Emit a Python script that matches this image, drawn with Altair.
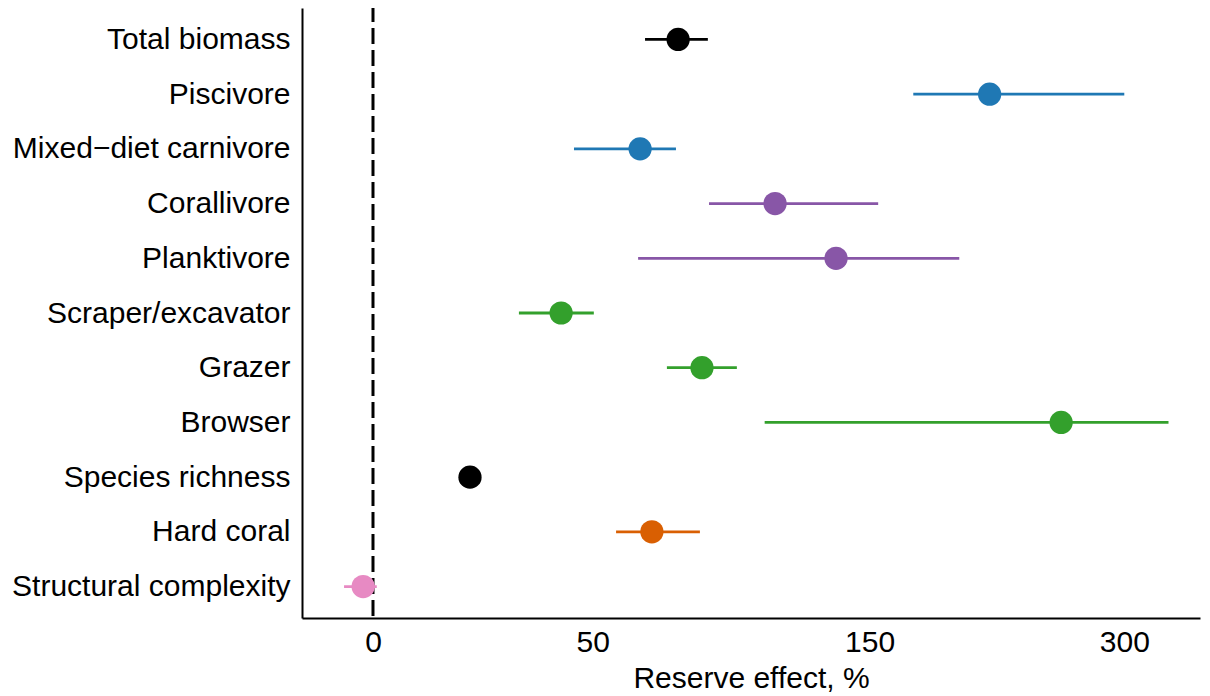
import math
import altair as alt
import pandas as pd

categories = ["Total biomass", "Piscivore", "Mixed\u2212diet carnivore", "Corallivore",
              "Planktivore", "Scraper/excavator", "Grazer", "Browser",
              "Species richness", "Hard coral", "Structural complexity"]
effect_pct = [75.6, 212, 63.7, 110, 135, 41.5, 83.5, 256, 19.6, 67.3, -1.8]
lower_pct = [65.2, 171, 44.9, 85.9, 63.1, 30.9, 72.0, 106, 19.0, 56.6, -5.2]
upper_pct = [85.5, 300, 74.9, 154, 195, 50.3, 95.7, 334, 20.2, 82.8, 0.7]
groups = ["Total", "Carnivores", "Carnivores", "Invertivores", "Invertivores",
          "Herbivores", "Herbivores", "Herbivores", "Diversity", "Coral", "Habitat"]

group_names = ["Total", "Carnivores", "Invertivores", "Herbivores", "Diversity", "Coral", "Habitat"]
group_colors = ["#000000", "#1f78b4", "#8856a7", "#33a02c", "#000000", "#d95f02", "#e78ac3"]

tick_pct = [0, 50, 150, 300]
tick_vals = [math.log(1 + t / 100) for t in tick_pct]

df = pd.DataFrame({"category": categories, "effect": effect_pct,
                   "lo": lower_pct, "hi": upper_pct, "group": groups})

FONT = "Liberation Sans"
base = alt.Chart(df).transform_calculate(
    lr="log(1 + datum.effect / 100)",
    lrlo="log(1 + datum.lo / 100)",
    lrhi="log(1 + datum.hi / 100)",
)

xscale = alt.Scale(domain=[-0.131, 1.526], nice=False, zero=False)
yscale = alt.Scale(type="point", domain=categories, padding=0.575)
color = alt.Color("group:N", scale=alt.Scale(domain=group_names, range=group_colors), legend=None)

rules = base.mark_rule(strokeWidth=2.8).encode(
    y=alt.Y("category:N", scale=yscale, sort=categories,
            axis=alt.Axis(title=None, labelFont=FONT, labelFontSize=30, labelColor="black",
                          labelLimit=0, ticks=False, labelPadding=12,
                          domainColor="black", domainWidth=2)),
    x=alt.X("lrlo:Q", scale=xscale,
            axis=alt.Axis(title="Reserve effect, %", values=tick_vals,
                          labelExpr="format((exp(datum.value) - 1) * 100, '.0f')",
                          labelFont=FONT, labelFontSize=30, labelColor="black",
                          titleFont=FONT, titleFontSize=30, titleFontWeight="normal",
                          titleColor="black", titlePadding=6,
                          ticks=False, grid=False, labelPadding=9,
                          domainColor="black", domainWidth=2)),
    x2="lrhi:Q",
    color=color,
)

points = base.mark_circle(size=540, opacity=1).encode(
    y=alt.Y("category:N", scale=yscale, sort=categories),
    x=alt.X("lr:Q", scale=xscale),
    color=color,
)

zero = alt.Chart(pd.DataFrame({"z": [0]})).mark_rule(
    color="black", strokeWidth=3, strokeDash=[16, 6]
).encode(x=alt.X("z:Q", scale=xscale), y=alt.value(-2), y2=alt.value(610))

chart = alt.layer(zero, rules, points).properties(
    width=898, height=610,
    padding={"left": 294, "top": 0, "right": 2, "bottom": 78},
    autosize=alt.AutoSizeParams(type="none"),
).configure_view(stroke=None).configure_axis(grid=False)

chart.save("out.html", embed_options={"renderer": "svg", "actions": False})
